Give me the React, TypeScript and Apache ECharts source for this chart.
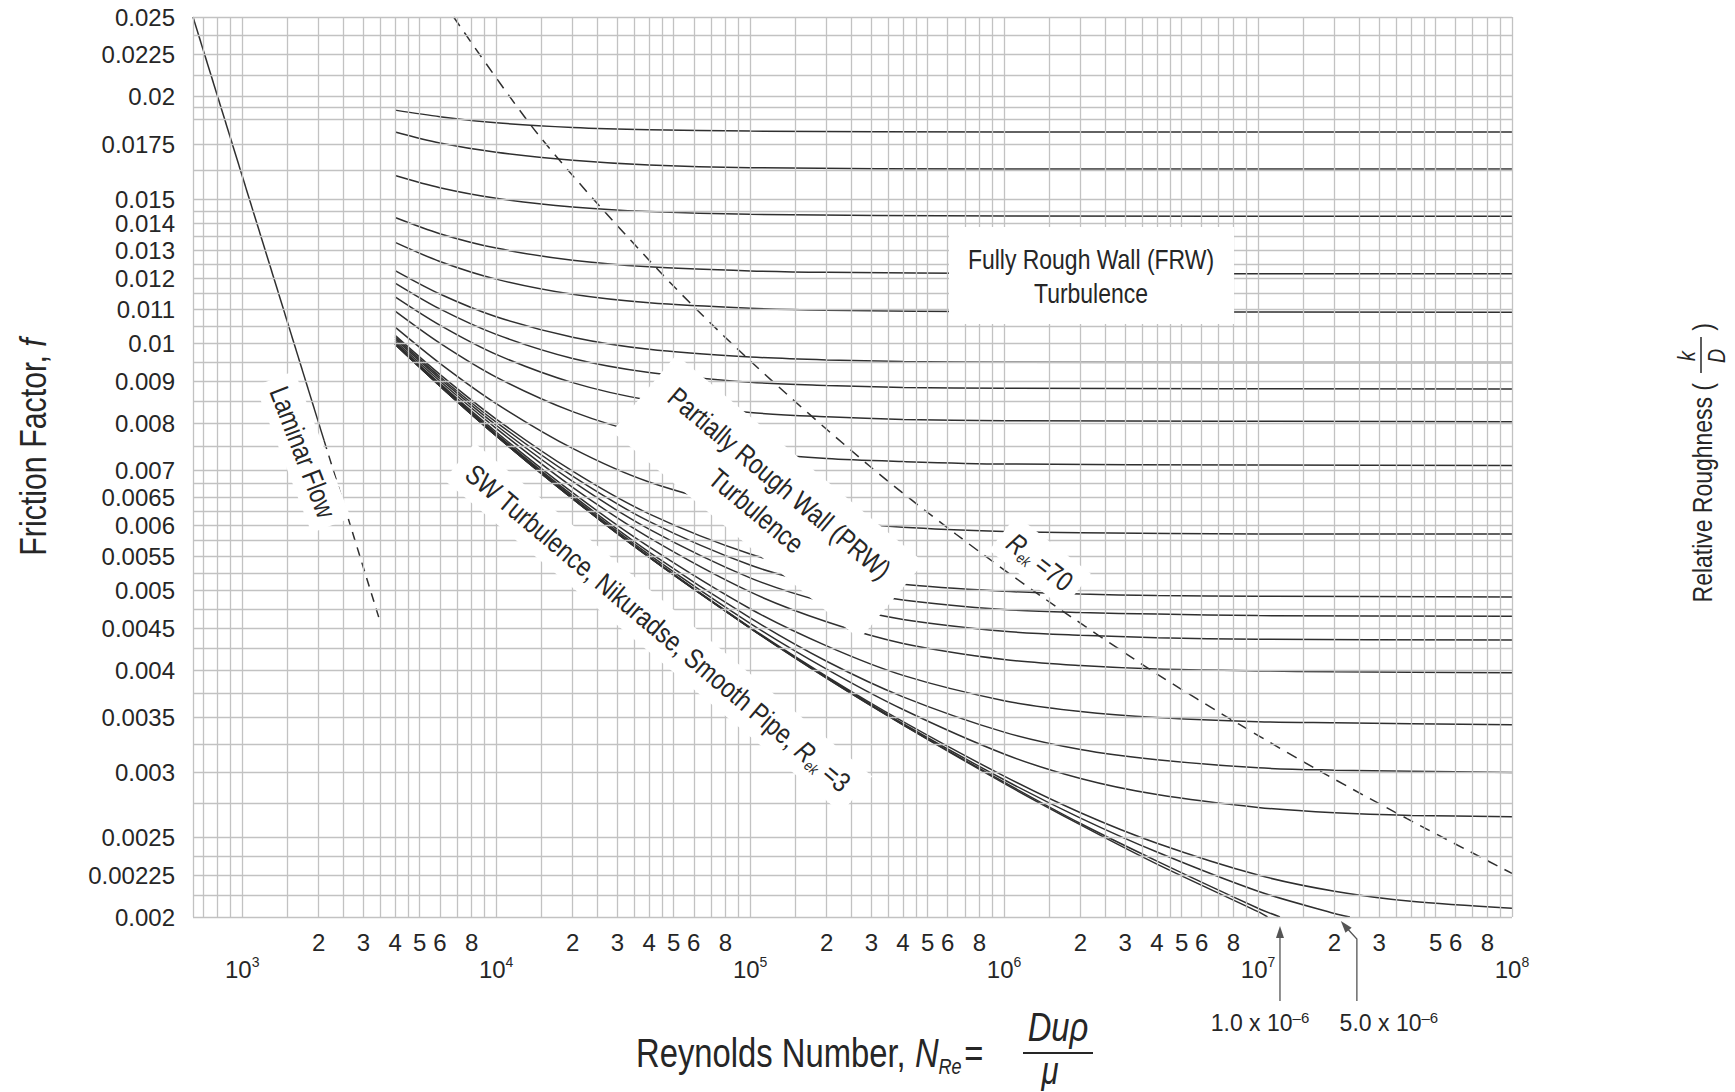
import React, { useEffect, useRef } from "react";
import * as echarts from "echarts";

// ---------- axes ----------
const X_MIN = 640;
const X_MAX = 1e8;
const Y_MIN = 0.002;
const Y_MAX = 0.025;

const decades = [1e3, 1e4, 1e5, 1e6, 1e7];
const gridMantissas = [1, 1.5, 2, 2.5, 3, 3.5, 4, 4.5, 5, 6, 7, 8, 9];
const extraXGrid = [640, 700, 800, 900];
const xDigitMantissas = [2, 3, 4, 5, 6, 8];

const yGridValues = [
  0.002, 0.002125, 0.00225, 0.002375, 0.0025, 0.00275, 0.003, 0.00325, 0.0035, 0.00375,
  0.004, 0.00425, 0.0045, 0.00475, 0.005, 0.00525, 0.0055, 0.00575, 0.006, 0.00625,
  0.0065, 0.00675, 0.007, 0.0075, 0.008, 0.0085, 0.009, 0.0095, 0.01, 0.0105, 0.011,
  0.0115, 0.012, 0.0125, 0.013, 0.0135, 0.014, 0.0145, 0.015, 0.01625, 0.0175, 0.01875,
  0.0194, 0.02, 0.02125, 0.0225, 0.02375, 0.025,
];
const yTickLabels = [
  "0.002", "0.00225", "0.0025", "0.003", "0.0035", "0.004", "0.0045", "0.005", "0.0055",
  "0.006", "0.0065", "0.007", "0.008", "0.009", "0.01", "0.011", "0.012", "0.013", "0.014",
  "0.015", "0.0175", "0.02", "0.0225", "0.025",
];

// ---------- curves: [Reynolds number, Fanning friction factor] ----------
const laminarSolid = [[640, 0.025], [2100, 0.00762]];
const laminarDashed = [[2100, 0.00762], [3500, 0.00457]];
const rek70 = [
  [6800, 0.025], [14800, 0.0179], [44900, 0.01216], [101700, 0.00948], [293700, 0.0071],
  [647000, 0.005855], [1413000, 0.00491], [3930000, 0.00397], [8450000, 0.003433],
  [18100000, 0.002995], [38600000, 0.002636], [100000000, 0.00226],
];

const r5e2 = [[4000, 0.01925], [6000, 0.0189], [10000, 0.01858], [20000, 0.01834], [40000, 0.01822], [100000, 0.01815], [1000000, 0.01811], [100000000, 0.0181]];
const r4e2 = [[4000, 0.0181], [6000, 0.01755], [10000, 0.0171], [20000, 0.01672], [40000, 0.0165], [100000, 0.01638], [1000000, 0.01632], [100000000, 0.01632]];
const r3e2 = [[4000, 0.01602], [6000, 0.01548], [10000, 0.01503], [20000, 0.01467], [40000, 0.01448], [100000, 0.01437], [1000000, 0.0143], [100000000, 0.01429]];
const r2e2 = [[4000, 0.01424], [6000, 0.01361], [10000, 0.01307], [20000, 0.01263], [40000, 0.0124], [100000, 0.01226], [200000, 0.01221], [1000000, 0.01217], [100000000, 0.01216]];
const r15e3 = [[4000, 0.01328], [6000, 0.01259], [10000, 0.01198], [20000, 0.01148], [40000, 0.01121], [100000, 0.01104], [200000, 0.01098], [1000000, 0.01093], [100000000, 0.01092]];
const r1e2 = [[4000, 0.01227], [6000, 0.01149], [10000, 0.01078], [20000, 0.01018], [40000, 0.00984], [100000, 0.00963], [200000, 0.00955], [400000, 0.00951], [1000000, 0.00949], [100000000, 0.00948]];
const r8e3 = [[4000, 0.01185], [6000, 0.01102], [10000, 0.01026], [20000, 0.00959], [40000, 0.00922], [100000, 0.00897], [200000, 0.00889], [400000, 0.00884], [1000000, 0.00882], [100000000, 0.0088]];
const r6e3 = [[4000, 0.0114], [6000, 0.01053], [10000, 0.0097], [20000, 0.00896], [40000, 0.00853], [100000, 0.00824], [200000, 0.00814], [400000, 0.00808], [1000000, 0.00805], [100000000, 0.00803]];
const r4e3 = [[4000, 0.01095], [6000, 0.01001], [10000, 0.0091], [20000, 0.00826], [40000, 0.00774], [100000, 0.00738], [200000, 0.00724], [400000, 0.00718], [1000000, 0.00713], [10000000, 0.00711], [100000000, 0.0071]];
const r2e3 = [[4000, 0.01047], [6000, 0.00946], [10000, 0.00845], [20000, 0.00745], [40000, 0.00678], [100000, 0.00628], [200000, 0.00608], [400000, 0.00597], [1000000, 0.0059], [2000000, 0.00588], [10000000, 0.00586], [100000000, 0.00586]];
const r1e3 = [[4000, 0.01023], [6000, 0.00917], [10000, 0.00809], [20000, 0.00699], [40000, 0.0062], [100000, 0.00554], [200000, 0.00526], [400000, 0.00509], [1000000, 0.00499], [2000000, 0.00495], [4000000, 0.00493], [10000000, 0.00492], [100000000, 0.00491]];
const r8e4 = [[4000, 0.01018], [6000, 0.00911], [10000, 0.00802], [20000, 0.00689], [40000, 0.00607], [100000, 0.00537], [200000, 0.00506], [400000, 0.00487], [1000000, 0.00474], [2000000, 0.0047], [4000000, 0.00468], [10000000, 0.00466], [100000000, 0.00465]];
const r6e4 = [[4000, 0.01013], [6000, 0.00906], [10000, 0.00795], [20000, 0.00679], [40000, 0.00594], [100000, 0.00518], [200000, 0.00483], [400000, 0.00461], [1000000, 0.00446], [2000000, 0.00441], [4000000, 0.00438], [10000000, 0.00436], [100000000, 0.00435]];
const r4e4 = [[4000, 0.01007], [6000, 0.009], [10000, 0.00788], [20000, 0.00668], [40000, 0.0058], [100000, 0.00498], [200000, 0.00458], [400000, 0.00431], [1000000, 0.00412], [2000000, 0.00405], [4000000, 0.00401], [10000000, 0.00399], [20000000, 0.00398], [100000000, 0.00397]];
const r2e4 = [[4000, 0.01003], [6000, 0.00894], [10000, 0.0078], [20000, 0.00658], [40000, 0.00565], [100000, 0.00475], [200000, 0.00428], [400000, 0.00394], [1000000, 0.00367], [2000000, 0.00356], [4000000, 0.0035], [10000000, 0.00346], [20000000, 0.00345], [100000000, 0.00343]];
const r1e4 = [[4000, 0.01], [6000, 0.00891], [10000, 0.00776], [20000, 0.00653], [40000, 0.00557], [100000, 0.00463], [200000, 0.0041], [400000, 0.00371], [1000000, 0.00336], [2000000, 0.0032], [4000000, 0.00311], [10000000, 0.00304], [20000000, 0.00302], [40000000, 0.00301], [100000000, 0.003]];
const r5e5 = [[4000, 0.00999], [6000, 0.00889], [10000, 0.00774], [20000, 0.0065], [40000, 0.00553], [100000, 0.00456], [200000, 0.00401], [400000, 0.00358], [1000000, 0.00316], [2000000, 0.00295], [4000000, 0.00282], [10000000, 0.00272], [20000000, 0.00268], [40000000, 0.00266], [100000000, 0.00265]];
const r1e5 = [[4000, 0.00998], [6000, 0.00888], [10000, 0.00772], [20000, 0.00647], [40000, 0.0055], [100000, 0.00451], [200000, 0.00393], [400000, 0.00346], [1000000, 0.00297], [2000000, 0.00268], [4000000, 0.00246], [10000000, 0.00225], [20000000, 0.00215], [40000000, 0.00209], [100000000, 0.00205]];
const r5e6 = [[4000, 0.00998], [6000, 0.00888], [10000, 0.00772], [20000, 0.00647], [40000, 0.00549], [100000, 0.0045], [200000, 0.00392], [400000, 0.00344], [1000000, 0.00294], [2000000, 0.00264], [4000000, 0.0024], [10000000, 0.00215], [20000000, 0.00202], [23000000, 0.002]];
const r1e6 = [[4000, 0.00998], [6000, 0.00888], [10000, 0.00772], [20000, 0.00647], [40000, 0.00549], [100000, 0.0045], [200000, 0.00391], [400000, 0.00343], [1000000, 0.00292], [2000000, 0.0026], [4000000, 0.00234], [10000000, 0.00205], [12200000, 0.002]];
const smoothPipe = [[4000, 0.00998], [6000, 0.00888], [10000, 0.00772], [20000, 0.00647], [40000, 0.00549], [100000, 0.0045], [200000, 0.00391], [400000, 0.00343], [1000000, 0.00291], [2000000, 0.00259], [4000000, 0.00232], [10000000, 0.00203], [10900000, 0.002]];

const roughCurves = [
  { data: r5e2, tag: ["5.0", "2"] },
  { data: r4e2, tag: ["4.0", "2"] },
  { data: r3e2, tag: ["3.0", "2"] },
  { data: r2e2, tag: ["2.0", "2"] },
  { data: r15e3, tag: ["1.5", "2"] },
  { data: r1e2, tag: ["1.0", "2"] },
  { data: r8e3, tag: ["8.0", "3"] },
  { data: r6e3, tag: ["6.0", "3"] },
  { data: r4e3, tag: ["4.0", "3"] },
  { data: r2e3, tag: ["2.0", "3"] },
  { data: r1e3, tag: ["1.0", "3"] },
  { data: r8e4, tag: ["8.0", "4"] },
  { data: r6e4, tag: ["6.0", "4"] },
  { data: r4e4, tag: ["4.0", "4"] },
  { data: r2e4, tag: ["2.0", "4"] },
  { data: r1e4, tag: ["1.0", "4"] },
  { data: r5e5, tag: ["5.0", "5"] },
  { data: r1e5, tag: ["1.0", "5"] },
  { data: r5e6, tag: null },
  { data: r1e6, tag: null },
  { data: smoothPipe, tag: null },
];

// ---------- styles ----------
const TXT = "#262626";
const GRID = "#c2c2c2";
const CURVE = "#2f2f2f";
const SANS = "'Liberation Sans', Arial, Helvetica, sans-serif";
const NARROW_SCALE = 0.82; // condensed look built from Liberation Sans

const supRich = (size: number, supSize: number) => ({
  base: { fontSize: size, fontFamily: SANS, color: TXT, lineHeight: size + 4 },
  sup: { fontSize: supSize, fontFamily: SANS, color: TXT, lineHeight: supSize - 2, verticalAlign: "top" },
});

function buildGridLines() {
  const items: any[] = [];
  yGridValues.forEach((v) => {
    const lbl = yTickLabels.find((t) => Math.abs(parseFloat(t) - v) < 1e-9);
    const item: any = { yAxis: v };
    if (lbl) {
      item.label = {
        show: true, position: "start", distance: 18, formatter: lbl,
        color: TXT, fontSize: 24, fontFamily: SANS,
      };
    }
    items.push(item);
  });
  decades.forEach((d) => {
    const exp = Math.round(Math.log10(d));
    gridMantissas.forEach((m) => {
      const item: any = { xAxis: m * d };
      if (m === 1) {
        item.label = {
          show: true, position: "start", distance: 38,
          formatter: `{base|10}{sup|${exp}}`, rich: supRich(24, 14),
        };
      } else if (xDigitMantissas.includes(m) && !(d === 1e7 && m === 4)) {
        item.label = {
          show: true, position: "start", distance: 13, formatter: String(m),
          color: TXT, fontSize: 24, fontFamily: SANS,
        };
      }
      items.push(item);
    });
  });
  extraXGrid.forEach((v) => items.push({ xAxis: v }));
  items.push({
    xAxis: X_MAX,
    label: { show: true, position: "start", distance: 38, formatter: "{base|10}{sup|8}", rich: supRich(24, 14) },
  });
  return items;
}

function buildOption() {
  const series: any[] = [];
  series.push({
    type: "line", data: [], silent: true, z: 1,
    markLine: {
      silent: true, animation: false, symbol: ["none", "none"], precision: 10,
      lineStyle: { color: GRID, width: 1.3, type: "solid" },
      label: { show: false },
      emphasis: { disabled: true },
      data: buildGridLines(),
    },
  });
  roughCurves.forEach((c) => {
    const n = c.data.length;
    series.push({
      type: "line", silent: true, z: 3, showSymbol: false, symbol: "none",
      smooth: 0.3,
      lineStyle: { color: CURVE, width: 1.5 },
      label: { show: false },
      data: c.data.map((p, i) =>
        i === n - 1 && c.tag
          ? {
              value: p,
              label: {
                show: true, position: "right", distance: 9,
                formatter: `{base|${c.tag[0]} x 10}{sup|–${c.tag[1]}}`,
                rich: supRich(23, 15),
              },
            }
          : p
      ),
    });
  });
  series.push({
    type: "line", silent: true, z: 3, showSymbol: false, symbol: "none",
    lineStyle: { color: CURVE, width: 1.5 }, data: laminarSolid,
  });
  series.push({
    type: "line", silent: true, z: 3, showSymbol: false, symbol: "none",
    lineStyle: { color: CURVE, width: 1.5, type: [9, 7] }, data: laminarDashed,
  });
  series.push({
    type: "line", silent: true, z: 3, showSymbol: false, symbol: "none",
    smooth: 0.3,
    lineStyle: { color: CURVE, width: 1.5, type: [11, 8] }, data: rek70,
  });

  const hiddenAxis = {
    axisLine: { show: false }, axisTick: { show: false },
    axisLabel: { show: false }, splitLine: { show: false },
  };
  return {
    animation: false,
    backgroundColor: "#ffffff",
    grid: { left: 193, top: 17, width: 1319, height: 900 },
    xAxis: { type: "log", logBase: 10, min: X_MIN, max: X_MAX, ...hiddenAxis },
    yAxis: { type: "log", logBase: 10, min: Y_MIN, max: Y_MAX, ...hiddenAxis },
    series,
  };
}

const deg = (a: number) => (a * Math.PI) / 180;

function buildGraphics(chart: any) {
  const px = (re: number, f: number) => chart.convertToPixel({ gridIndex: 0 }, [re, f]) as number[];
  const t1 = px(1.22e7, Y_MIN);
  const t2 = px(2.1e7, Y_MIN);
  const Z = 100;
  const S = NARROW_SCALE;
  const els: any[] = [];

  els.push({ type: "rect", z: Z, shape: { x: 949, y: 227, width: 285, height: 97 }, style: { fill: "#fff" } });
  els.push({
    type: "text", z: Z + 1, x: 1091, y: 276, scaleX: S,
    style: {
      text: "Fully Rough Wall (FRW)\nTurbulence", fill: TXT, fontSize: 28, fontFamily: SANS,
      align: "center", verticalAlign: "middle", lineHeight: 34,
    },
  });
  els.push({
    type: "text", z: Z + 1, x: 768, y: 497, rotation: deg(-40), scaleX: S,
    style: {
      text: "Partially Rough Wall (PRW)\nTurbulence", fill: TXT, fontSize: 28, fontFamily: SANS,
      align: "center", verticalAlign: "middle", lineHeight: 36,
      backgroundColor: "#fff", padding: [14, 26],
    },
  });
  const subRich = {
    it: { fontStyle: "italic", fontSize: 28, fontFamily: SANS, color: TXT, lineHeight: 32 },
    sb: { fontStyle: "italic", fontSize: 15, fontFamily: SANS, color: TXT, lineHeight: 8, verticalAlign: "bottom" },
  };
  els.push({
    type: "text", z: Z + 1, x: 658, y: 628, rotation: deg(-40), scaleX: S,
    style: {
      text: "SW Turbulence, Nikuradse, Smooth Pipe, {it|R}{sb|ek} =3", fill: TXT, fontSize: 28,
      fontFamily: SANS, align: "center", verticalAlign: "middle", lineHeight: 32,
      backgroundColor: "#fff", padding: [8, 16], rich: subRich,
    },
  });
  els.push({
    type: "text", z: Z + 1, x: 1040, y: 562, rotation: deg(-38), scaleX: S,
    style: {
      text: "{it|R}{sb|ek} =70", fill: TXT, fontSize: 28, fontFamily: SANS,
      align: "center", verticalAlign: "middle", lineHeight: 32,
      backgroundColor: "#fff", padding: [6, 12], rich: subRich,
    },
  });
  els.push({
    type: "text", z: Z + 1, x: 303, y: 452, rotation: deg(-69), scaleX: S,
    style: {
      text: "Laminar Flow", fill: TXT, fontSize: 28, fontFamily: SANS,
      align: "center", verticalAlign: "middle", lineHeight: 30,
      backgroundColor: "#fff", padding: [6, 12],
    },
  });

  // arrows for 1.0e-6 and 5.0e-6
  const ax1 = t1[0];
  const ay = t1[1];
  els.push({ type: "line", z: Z, shape: { x1: ax1, y1: ay + 84, x2: ax1, y2: ay + 18 }, style: { stroke: "#555", lineWidth: 1.3 } });
  els.push({ type: "polygon", z: Z, shape: { points: [[ax1, ay + 9], [ax1 - 4, ay + 21], [ax1 + 4, ay + 21]] }, style: { fill: "#555" } });
  const bx = t2[0];
  const by = t2[1];
  els.push({
    type: "polyline", z: Z,
    shape: { points: [[bx + 17, by + 84], [bx + 17, by + 22], [bx + 6, by + 10]] },
    style: { stroke: "#555", lineWidth: 1.3, fill: null },
  });
  {
    const tx = bx + 1, ty = by + 4;
    const dx = -0.64, dy = -0.77;
    const bcx = tx - dx * 12, bcy = ty - dy * 12;
    const nx = 0.77, ny = -0.64;
    els.push({
      type: "polygon", z: Z,
      shape: { points: [[tx, ty], [bcx + nx * 4, bcy + ny * 4], [bcx - nx * 4, bcy - ny * 4]] },
      style: { fill: "#555" },
    });
  }
  const lowRich = supRich(23, 15);
  els.push({
    type: "text", z: Z, x: ax1 - 20, y: ay + 106,
    style: { text: "{base|1.0 x 10}{sup|–6}", align: "center", verticalAlign: "middle", rich: lowRich, fill: TXT },
  });
  els.push({
    type: "text", z: Z, x: bx + 49, y: by + 106,
    style: { text: "{base|5.0 x 10}{sup|–6}", align: "center", verticalAlign: "middle", rich: lowRich, fill: TXT },
  });

  // y-axis title
  els.push({
    type: "text", z: Z, x: 33, y: 447, rotation: deg(90), scaleX: S,
    style: {
      text: "Friction Factor, {it|f}", fill: TXT, fontSize: 37, fontFamily: SANS,
      align: "center", verticalAlign: "middle", lineHeight: 42,
      rich: { it: { fontStyle: "italic", fontSize: 37, fontFamily: SANS, lineHeight: 42, color: TXT } },
    },
  });

  // x-axis title
  els.push({
    type: "text", z: Z, x: 636, y: 1053, scaleX: S,
    style: {
      text: "Reynolds Number, {n|N}{sb|Re}{eq|=}", fill: TXT, fontSize: 40, fontFamily: SANS,
      align: "left", verticalAlign: "middle", lineHeight: 48,
      rich: {
        n: { fontStyle: "italic", fontSize: 40, fontFamily: SANS, lineHeight: 48, color: TXT },
        sb: { fontStyle: "italic", fontSize: 22, fontFamily: SANS, lineHeight: 10, verticalAlign: "bottom", color: TXT },
        eq: { fontSize: 40, fontFamily: SANS, lineHeight: 48, color: TXT, padding: [0, 0, 0, 3] },
      },
    },
  });
  els.push({
    type: "text", z: Z, x: 1058, y: 1027, scaleX: S,
    style: { text: "Duρ", fill: TXT, fontSize: 40, fontStyle: "italic", fontFamily: SANS, align: "center", verticalAlign: "middle", lineHeight: 40 },
  });
  els.push({ type: "line", z: Z, shape: { x1: 1023, y1: 1053, x2: 1093, y2: 1053 }, style: { stroke: TXT, lineWidth: 2 } });
  els.push({
    type: "text", z: Z, x: 1050, y: 1071, scaleX: S,
    style: { text: "μ", fill: TXT, fontSize: 38, fontStyle: "italic", fontFamily: SANS, align: "center", verticalAlign: "middle", lineHeight: 34 },
  });

  // right title: Relative Roughness (k/D)
  els.push({
    type: "group", z: Z, x: 1702, y: 459, rotation: deg(90),
    children: [
      { type: "text", z: Z, x: 76, y: 0, scaleX: S, style: { text: "Relative Roughness (", fill: TXT, fontSize: 28, fontFamily: SANS, align: "right", verticalAlign: "middle" } },
      { type: "text", z: Z, x: 103, y: -15, scaleX: S, style: { text: "k", fill: TXT, fontSize: 24, fontStyle: "italic", fontFamily: SANS, align: "center", verticalAlign: "middle" } },
      { type: "line", z: Z, shape: { x1: 86, y1: -1, x2: 122, y2: -1 }, style: { stroke: TXT, lineWidth: 1.5 } },
      { type: "text", z: Z, x: 103, y: 15, scaleX: S, style: { text: "D", fill: TXT, fontSize: 24, fontStyle: "italic", fontFamily: SANS, align: "center", verticalAlign: "middle" } },
      { type: "text", z: Z, x: 132, y: 0, scaleX: S, style: { text: ")", fill: TXT, fontSize: 28, fontFamily: SANS, align: "center", verticalAlign: "middle" } },
    ],
  });
  return els;
}

export default function App() {
  const ref = useRef<HTMLDivElement>(null);
  useEffect(() => {
    if (!ref.current) return;
    const chart = echarts.init(ref.current, null, { renderer: "svg" });
    chart.setOption(buildOption() as any);
    chart.setOption({ graphic: buildGraphics(chart) } as any);
    return () => chart.dispose();
  }, []);
  return (
    <div
      ref={ref}
      style={{ position: "fixed", left: 0, top: 0, width: 1735, height: 1092, background: "#fff" }}
    />
  );
}
